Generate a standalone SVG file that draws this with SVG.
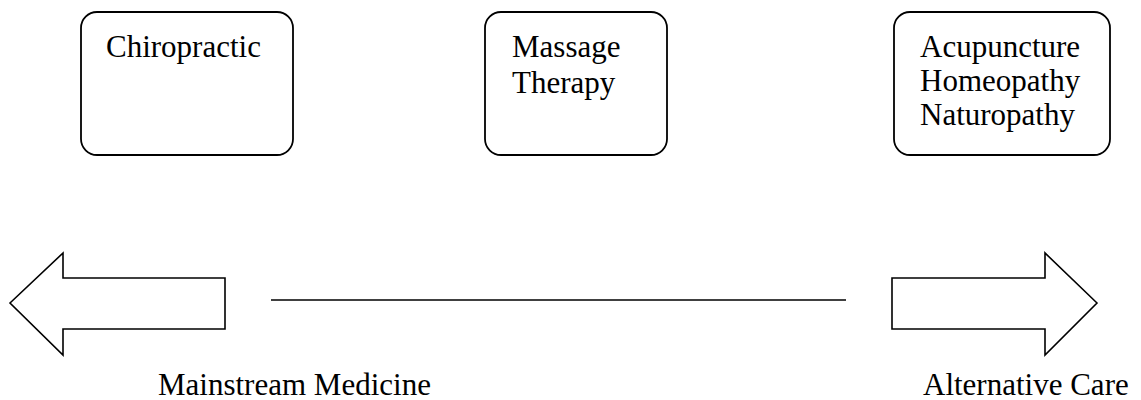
<svg xmlns="http://www.w3.org/2000/svg" width="1141" height="400" viewBox="0 0 1141 400">
<style>
.box{fill:#fff;stroke:#000;stroke-width:1.8}
.arr{fill:#fff;stroke:#000;stroke-width:1.6;stroke-linejoin:miter}
.t{font-family:"Liberation Serif","Times New Roman",serif;font-size:31px;fill:#000}
</style>
<rect width="1141" height="400" fill="#fff"/>
<g id="chiropractic">
<rect class="box" x="81" y="12" width="212" height="143" rx="16"/>
<text class="t" x="106" y="57">Chiropractic</text>
</g>
<g id="massage">
<rect class="box" x="485" y="12" width="182" height="143" rx="16"/>
<text class="t" x="512" y="57">Massage</text>
<text class="t" x="512" y="93">Therapy</text>
</g>
<g id="alternative-therapies">
<rect class="box" x="894" y="12" width="216" height="143" rx="16"/>
<text class="t" x="920" y="57">Acupuncture</text>
<text class="t" x="920" y="91">Homeopathy</text>
<text class="t" x="920" y="125">Naturopathy</text>
</g>
<g id="mainstream">
<polygon class="arr" points="10,303 63,253 63,278 225,278 225,329 63,329 63,355"/>
<text class="t" x="158" y="395">Mainstream Medicine</text>
</g>
<g id="alternative">
<polygon class="arr" points="1097,303 1045,253 1045,278 892,278 892,329 1045,329 1045,355"/>
<text class="t" x="923" y="395">Alternative Care</text>
</g>
<g id="connectors">
<line x1="271" y1="300" x2="846" y2="300" stroke="#000" stroke-width="1.6"/>
</g>
</svg>
